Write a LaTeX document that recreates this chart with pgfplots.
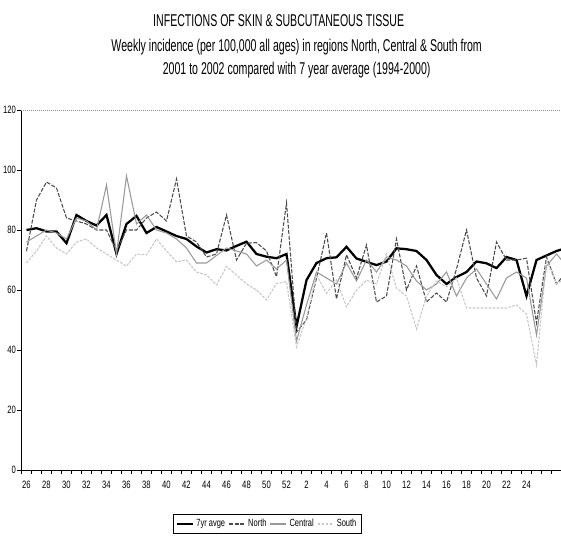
\documentclass[border=0pt]{standalone}
\usepackage{fontspec}
\setmainfont{Liberation Sans}[FakeStretch=0.72]
\newfontfamily\titlefont{Liberation Sans}[FakeStretch=0.62]
\usepackage{pgfplots}
\pgfplotsset{compat=1.18}

\begin{document}
\begin{tikzpicture}
\begin{axis}[
  at={(15.75pt,50.25pt)}, anchor=south west,
  scale only axis, width=405pt, height=270pt,
  xmin=-0.55, xmax=53.45, ymin=0, ymax=120,
  axis x line=bottom, axis y line=left,
  axis line style={-, black, line width=0.6pt},
  ytick={0,20,...,120},
  xtick={-0.5,0.5,...,53.5},
  xticklabels={},
  extra x ticks={0,2,...,50},
  extra x tick labels={26,28,30,32,34,36,38,40,42,44,46,48,50,52,2,4,6,8,10,12,14,16,18,20,22,24},
  extra x tick style={major tick length=0pt, tick label style={yshift=-5pt}},
  tick align=outside,
  major tick length=3pt,
  x tick style={black, line width=0.5pt},
  y tick style={black, line width=0.5pt},
  tick label style={font=\fontsize{8}{9}\selectfont},
  y tick label style={inner xsep=0.6pt},
  /pgf/number format/assume math mode=true,
  legend style={at={(0.456,-0.15)}, anchor=center, legend columns=4, draw=black,
    font=\fontsize{7.8}{9}\selectfont, inner sep=1.5pt, line width=0.5pt,
    /tikz/every even column/.append style={column sep=0.5pt}},
  legend image code/.code={\draw[#1] (0pt,0pt) -- (12pt,0pt);},
]
\addplot[black, line width=1.7pt] coordinates {
(0,80) (1,80.6) (2,79.5) (3,79.5) (4,75.6) (5,85) (6,83) (7,81.5) (8,85) (9,72)
(10,82) (11,84.7) (12,79) (13,81) (14,79.5) (15,78) (16,77) (17,74.5) (18,72.5) (19,73.6)
(20,73.2) (21,74.7) (22,76.1) (23,72) (24,71.1) (25,70.6) (26,72) (27,47.8) (28,63.3) (29,69)
(30,70.6) (31,70.9) (32,74.4) (33,70.5) (34,69.4) (35,68.3) (36,69.5) (37,73.9) (38,73.6) (39,73)
(40,70) (41,65) (42,62) (43,64.3) (44,66) (45,69.5) (46,68.9) (47,67.3) (48,71) (49,70)
(50,58) (51,70) (52,71.5) (53,73) (54,74)};
\addlegendentry{7yr avge}
\addplot[black!70, line width=0.8pt, dash pattern=on 3pt off 1.2pt] coordinates {
(0,73) (1,90) (2,96) (3,94) (4,84) (5,83) (6,82) (7,80) (8,80) (9,73)
(10,80) (11,80) (12,84) (13,86) (14,83) (15,97) (16,78) (17,76) (18,71) (19,72)
(20,85) (21,70) (22,75.6) (23,75.8) (24,73) (25,64.4) (26,89) (27,46) (28,50) (29,64)
(30,79) (31,57) (32,71.7) (33,64) (34,75) (35,56) (36,58) (37,77) (38,60) (39,68)
(40,56) (41,59) (42,56) (43,67) (44,80) (45,64) (46,58) (47,76) (48,70) (49,70)
(50,70.6) (51,49) (52,71) (53,62) (54,66)};
\addlegendentry{North}
\addplot[black!40, line width=0.8pt] coordinates {
(0,76) (1,78) (2,80) (3,79) (4,77) (5,84) (6,83) (7,80) (8,95) (9,72)
(10,98) (11,82) (12,85) (13,80) (14,79) (15,77) (16,74) (17,69) (18,69) (19,71.5)
(20,74) (21,73) (22,72) (23,68) (24,70) (25,67) (26,70) (27,43) (28,55) (29,66)
(30,64) (31,62) (32,69) (33,63) (34,70) (35,66) (36,71) (37,70) (38,68) (39,63)
(40,60) (41,62) (42,66) (43,58) (44,64) (45,67) (46,62) (47,57) (48,64) (49,66)
(50,64) (51,45) (52,68) (53,72) (54,68)};
\addlegendentry{Central}
\addplot[black!22, line width=0.8pt, dash pattern=on 2pt off 1pt] coordinates {
(0,69) (1,73) (2,78) (3,74) (4,72) (5,76) (6,77) (7,74) (8,72) (9,70)
(10,68) (11,72) (12,71.7) (13,77) (14,73) (15,69.4) (16,70) (17,66) (18,65) (19,61.7)
(20,67.8) (21,65) (22,62) (23,60) (24,56.7) (25,62.2) (26,62.8) (27,41) (28,50.6) (29,65)
(30,58.9) (31,63.3) (32,54.4) (33,60) (34,63.3) (35,62) (36,72) (37,60.6) (38,58) (39,47)
(40,58) (41,63) (42,61) (43,64) (44,54) (45,54) (46,54) (47,54) (48,54) (49,55)
(50,52) (51,35) (52,70) (53,62) (54,64)};
\addlegendentry{South}
\end{axis}
\draw[black!45, densely dotted, line width=0.5pt] (15.75pt,320.25pt) -- (420.75pt,320.25pt);
\node[font=\titlefont\fontsize{12.8}{14}\selectfont, inner sep=0pt] at (209pt,387pt) {INFECTIONS OF SKIN \& SUBCUTANEOUS TISSUE};
\node[font=\titlefont\fontsize{12.8}{14}\selectfont, inner sep=0pt] at (222.5pt,367.5pt) {Weekly incidence (per 100,000 all ages) in regions North, Central \& South from};
\node[font=\titlefont\fontsize{12.8}{14}\selectfont, inner sep=0pt] at (222.5pt,350.25pt) {2001 to 2002 compared with 7 year average (1994-2000)};
\pgfresetboundingbox
\path[use as bounding box] (0pt,0pt) rectangle (420.75pt,402.75pt);
\end{tikzpicture}
\end{document}
